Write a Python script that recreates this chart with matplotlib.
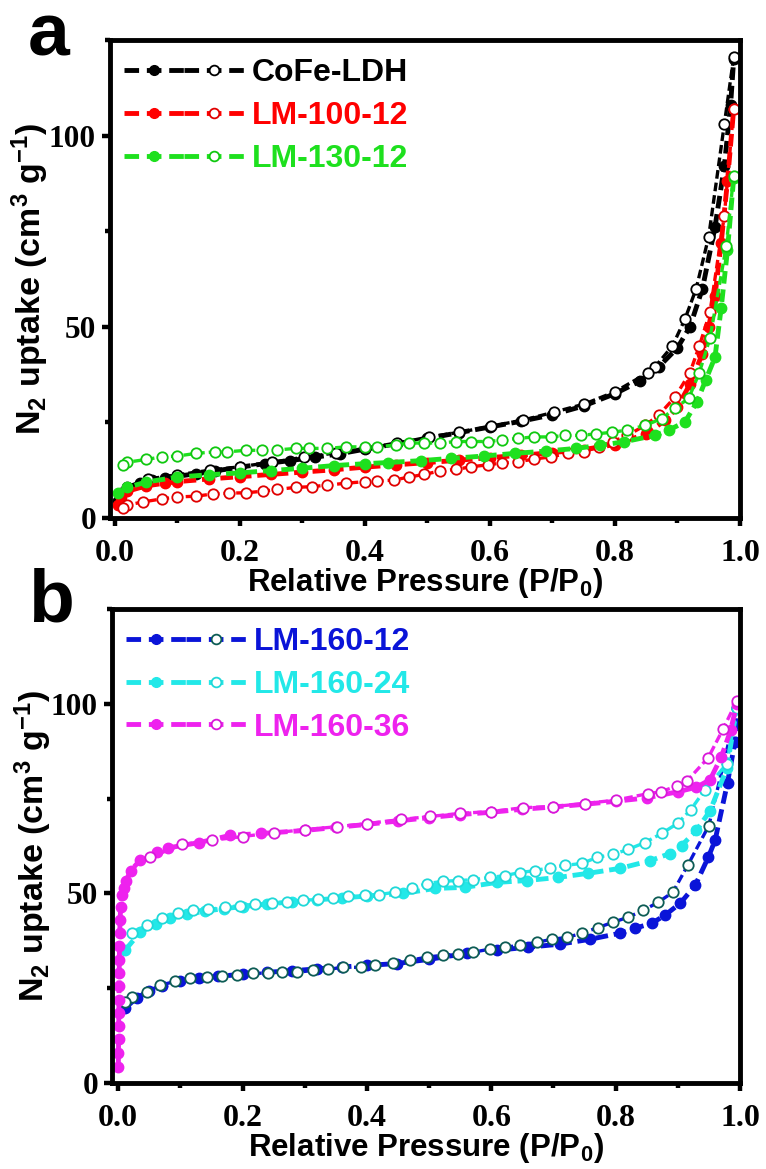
import numpy as np
import matplotlib
matplotlib.use('Agg')
import matplotlib.pyplot as plt
from matplotlib.lines import Line2D
from matplotlib.legend_handler import HandlerTuple
from matplotlib.ticker import MultipleLocator

plt.rcParams['font.family'] = ['Liberation Sans', 'DejaVu Sans']
plt.rcParams['mathtext.fontset'] = 'custom'
plt.rcParams['mathtext.rm'] = 'Liberation Sans:bold'
plt.rcParams['mathtext.it'] = 'Liberation Sans:bold'
plt.rcParams['mathtext.bf'] = 'Liberation Sans:bold'

# ---- panel a data ----
cofe_ads_x = [0.005, 0.01, 0.02, 0.04, 0.06, 0.08, 0.1, 0.13, 0.16, 0.2, 0.24, 0.28, 0.32, 0.36, 0.4,
              0.45, 0.5, 0.55, 0.6, 0.65, 0.7, 0.75, 0.8, 0.84, 0.87, 0.9, 0.92, 0.94, 0.96, 0.975, 0.985, 0.99]
cofe_ads_y = [4.5, 6.5, 8.0, 9.2, 10.0, 10.5, 10.9, 11.6, 12.3, 13.3, 14.2, 15.0, 15.9, 16.8, 18.0,
              19.4, 20.8, 22.3, 23.8, 25.3, 27.0, 29.3, 32.5, 35.8, 39.5, 44.5, 50, 60, 76, 92, 108, 120]
cofe_des_x = [0.99, 0.975, 0.95, 0.93, 0.912, 0.892, 0.864, 0.853, 0.8, 0.751, 0.703, 0.653, 0.602,
              0.551, 0.502, 0.452, 0.4, 0.353, 0.302, 0.252, 0.2, 0.152, 0.1, 0.053]
cofe_des_y = [120.5, 103, 73.6, 60, 52, 45, 39.5, 38, 33, 29.8, 27.7, 25.6, 24, 22.4, 21.2, 19.5,
              18.2, 17, 15.9, 14.6, 13.4, 12.5, 11.3, 10.2]

lm100_ads_x = [0.005, 0.01, 0.02, 0.05, 0.08, 0.1, 0.15, 0.2, 0.25, 0.3, 0.35, 0.4, 0.45, 0.5, 0.55,
               0.6, 0.65, 0.7, 0.75, 0.8, 0.85, 0.88, 0.9, 0.92, 0.94, 0.95, 0.96, 0.97, 0.98, 0.99]
lm100_ads_y = [3.5, 5.5, 7.0, 8.4, 9.1, 9.5, 10.2, 10.8, 11.4, 12.0, 12.6, 13.3, 13.9, 14.5, 15.1,
               15.8, 16.4, 17.1, 17.9, 19.2, 22, 25.5, 29, 35, 43, 50, 58, 72, 88, 107]
lm100_des_x = [0.99, 0.975, 0.952, 0.935, 0.92, 0.896, 0.87, 0.848, 0.82, 0.797, 0.774, 0.75, 0.725,
               0.698, 0.67, 0.645, 0.62, 0.597, 0.57, 0.546, 0.52, 0.495, 0.47, 0.446, 0.42, 0.4, 0.37,
               0.34, 0.315, 0.29, 0.26, 0.237, 0.21, 0.183, 0.157, 0.13, 0.1, 0.075, 0.045, 0.02, 0.013]
lm100_des_y = [107, 79, 53.8, 45, 38, 31.6, 26.9, 24.2, 21.6, 20.0, 18.6, 17.3, 16.9, 16.0, 15.4,
               14.7, 14.4, 13.9, 13.4, 12.7, 12.3, 11.4, 10.7, 9.9, 9.7, 9.5, 9.1, 8.6, 8.2, 8.0, 7.5,
               7.0, 6.6, 6.5, 6.3, 5.7, 5.5, 5.0, 4.2, 3.4, 2.6]

lm130_ads_x = [0.005, 0.02, 0.05, 0.1, 0.15, 0.2, 0.25, 0.3, 0.35, 0.4, 0.437, 0.49, 0.538, 0.59,
               0.64, 0.69, 0.738, 0.776, 0.814, 0.864, 0.886, 0.912, 0.931, 0.945, 0.96, 0.97, 0.98, 0.99]
lm130_ads_y = [6.5, 8.0, 9.4, 10.7, 11.3, 11.8, 12.4, 13.0, 13.7, 14.2, 14.5, 15.0, 15.6, 16.2,
               16.9, 17.5, 18.2, 19.0, 19.9, 21.6, 23, 25.1, 30.3, 36, 42, 55, 70, 89]
lm130_des_x = [0.99, 0.978, 0.952, 0.935, 0.918, 0.896, 0.875, 0.848, 0.82, 0.795, 0.77, 0.745, 0.72,
               0.697, 0.67, 0.645, 0.62, 0.597, 0.57, 0.546, 0.52, 0.495, 0.47, 0.45, 0.42, 0.4, 0.37,
               0.34, 0.31, 0.29, 0.26, 0.235, 0.21, 0.18, 0.16, 0.13, 0.1, 0.075, 0.05, 0.02, 0.013]
lm130_des_y = [89.5, 71, 47, 38, 31.3, 28.7, 26, 24.2, 23, 22.4, 22, 21.6, 21.6, 21.2, 21.2, 20.8,
               20.4, 20, 20, 20, 19.6, 19.6, 19.6, 19.1, 18.6, 18.6, 18.6, 18.2, 18.2, 18.2, 17.8,
               17.7, 17.7, 17.3, 17.3, 16.9, 16.2, 16, 15.3, 14.6, 13.8]

# ---- panel b data ----
lm12_ads_x = [0.011, 0.03, 0.05, 0.07, 0.1, 0.13, 0.16, 0.2, 0.24, 0.28, 0.32, 0.36, 0.4, 0.448, 0.5,
              0.561, 0.609, 0.659, 0.71, 0.759, 0.807, 0.831, 0.858, 0.879, 0.904, 0.928, 0.949, 0.96,
              0.98, 0.992, 0.995]
lm12_ads_y = [19.7, 22.5, 24.2, 25.5, 26.8, 27.6, 28.1, 28.7, 29.2, 29.6, 30.1, 30.6, 31.0, 31.5, 32.6,
              34.2, 35.0, 35.8, 36.6, 37.9, 39.5, 40.8, 42.1, 44.2, 47.4, 52.1, 59.5, 64, 79.2, 90, 99]
lm12_des_x = [0.995, 0.95, 0.916, 0.892, 0.868, 0.844, 0.82, 0.796, 0.772, 0.746, 0.722, 0.698, 0.673,
              0.646, 0.622, 0.598, 0.571, 0.547, 0.523, 0.497, 0.47, 0.442, 0.413, 0.39, 0.362, 0.338,
              0.314, 0.288, 0.263, 0.241, 0.217, 0.191, 0.167, 0.143, 0.116, 0.092, 0.068, 0.046,
              0.022, 0.011]
lm12_des_y = [99, 67.9, 57.4, 50.3, 47.6, 45.5, 43.7, 42.4, 41.0, 39.5, 38.4, 37.9, 37.1, 36.3, 35.8,
              35.3, 34.5, 34.0, 33.7, 33.2, 32.4, 31.6, 31.0, 30.5, 30.5, 30.0, 29.7, 29.2, 29.2, 29.0,
              28.9, 28.4, 28.2, 27.9, 27.6, 26.8, 25.8, 24.0, 22.6, 21.3]

lm24_ads_x = [0.011, 0.035, 0.06, 0.084, 0.11, 0.14, 0.17, 0.2, 0.24, 0.28, 0.32, 0.36, 0.4, 0.458,
              0.51, 0.558, 0.609, 0.658, 0.707, 0.756, 0.807, 0.855, 0.887, 0.906, 0.93, 0.952, 0.979, 0.995]
lm24_ads_y = [35, 39.7, 42, 43.4, 44.5, 45.3, 46, 46.5, 47.2, 47.8, 48.3, 48.8, 49.3, 50, 51.3, 51.6,
              52.9, 53.4, 54.2, 55.3, 56.6, 58.6, 60.5, 62.6, 66.6, 71.8, 83, 99]
lm24_des_x = [0.995, 0.979, 0.944, 0.921, 0.9, 0.874, 0.847, 0.82, 0.796, 0.77, 0.746, 0.719, 0.695,
              0.67, 0.646, 0.622, 0.598, 0.571, 0.547, 0.523, 0.497, 0.472, 0.445, 0.42, 0.397, 0.37,
              0.346, 0.322, 0.298, 0.271, 0.247, 0.22, 0.196, 0.172, 0.145, 0.121, 0.096, 0.07, 0.046, 0.022]
lm24_des_y = [99, 84.2, 77.4, 72.1, 68.5, 65.8, 63.4, 61.6, 60.3, 59.5, 57.9, 57.4, 56.8, 56, 55.5,
              54.7, 54.2, 53.6, 53.4, 53.2, 52.6, 51.3, 50.3, 49.7, 49.5, 49.2, 48.7, 48.4, 48.2, 47.6,
              47.4, 47.1, 46.8, 46.3, 45.8, 45.5, 44.7, 43.4, 41.6, 39.5]

lm36_ads_x = [0.0002, 0.0004, 0.0006, 0.0008, 0.001, 0.0012, 0.0014, 0.0016, 0.0018, 0.002, 0.0025,
              0.003, 0.004, 0.006, 0.009, 0.013, 0.02, 0.035, 0.062, 0.08, 0.13, 0.18, 0.23, 0.3, 0.35,
              0.4, 0.45, 0.5, 0.55, 0.6, 0.65, 0.7, 0.75, 0.8, 0.85, 0.9, 0.93, 0.952, 0.97, 0.985, 0.995]
lm36_ads_y = [4.2, 8.0, 11.5, 15.0, 18.5, 22.0, 25.5, 29.0, 32.5, 36.0, 39.5, 43.0, 46.5, 49.5, 51.5,
              53.4, 56.0, 58.7, 60.8, 62.0, 63.4, 65.3, 65.8, 66.6, 67.4, 68.2, 69.1, 70.0, 70.8, 71.4,
              72.2, 72.8, 73.5, 74.3, 75.2, 76.8, 78, 80, 86, 93, 100]
lm36_des_x = [0.995, 0.973, 0.949, 0.915, 0.899, 0.873, 0.852, 0.8, 0.75, 0.7, 0.651, 0.6, 0.55, 0.502,
              0.455, 0.4, 0.352, 0.3, 0.25, 0.2, 0.151, 0.103, 0.051]
lm36_des_y = [100.8, 93.4, 85.8, 79.7, 78.4, 76.8, 76.3, 74.6, 73.7, 72.9, 72.6, 71.6, 71.1, 70.3,
              69.5, 68.4, 67.6, 66.8, 66, 65, 64, 62.9, 59.5]

labels_a = ['CoFe-LDH', 'LM-100-12', 'LM-130-12']
colors_a = ['#000000', '#ff0000', '#1ee01e']
open_edges_a = ['#000000', '#e00000', '#10c810']
labels_b = ['LM-160-12', 'LM-160-24', 'LM-160-36']
colors_b = ['#0a14d8', '#22e8e8', '#ee22ee']
open_edges_b = ['#0d5c55', '#20d8d8', '#d818d8']

series_a = [(cofe_ads_x, cofe_ads_y, cofe_des_x, cofe_des_y),
            (lm100_ads_x, lm100_ads_y, lm100_des_x, lm100_des_y),
            (lm130_ads_x, lm130_ads_y, lm130_des_x, lm130_des_y)]
series_b = [(lm12_ads_x, lm12_ads_y, lm12_des_x, lm12_des_y),
            (lm24_ads_x, lm24_ads_y, lm24_des_x, lm24_des_y),
            (lm36_ads_x, lm36_ads_y, lm36_des_x, lm36_des_y)]

fig = plt.figure(figsize=(7.66, 11.69), dpi=100)
ax_a = fig.add_axes([0.1436, 0.5569, 0.8224, 0.4089])
ax_b = fig.add_axes([0.1462, 0.0736, 0.8198, 0.4054])

lw = 3.5
ms = 7.5
dash = (2.6, 1.2)


def draw_panel(ax, series, labels, colors, edges, xmin):
    for (ax_x, ax_y, dx, dy), c, e in zip(series, colors, edges):
        ax.plot(ax_x, ax_y, ls='--', dashes=dash, lw=lw, color=c, marker='o', ms=ms,
                mfc=c, mec=c)
        ax.plot(dx, dy, ls='--', dashes=dash, lw=2.4, color=c, marker='o', ms=ms,
                mfc='white', mec=e, mew=1.3)
    handles = []
    for c, e in zip(colors, edges):
        h1 = Line2D([], [], ls='--', dashes=(3, 1.6), lw=lw, color=c, marker='o', ms=7, mfc=c, mec=c)
        h2 = Line2D([], [], ls='--', dashes=(3, 1.6), lw=lw, color=c, marker='o', ms=7,
                    mfc='white', mec=e, mew=1.3)
        handles.append((h1, h2))
    leg = ax.legend(handles, labels, handler_map={tuple: HandlerTuple(ndivide=None, pad=0)},
                    loc='upper left', bbox_to_anchor=(0.022, 0.962), frameon=False,
                    borderpad=0, borderaxespad=0, handlelength=3.76, handletextpad=0.25,
                    labelspacing=0.4, numpoints=1,
                    prop={'family': 'Liberation Sans', 'weight': 'bold', 'size': 23})
    for t, c in zip(leg.get_texts(), colors):
        t.set_color(c)

    ax.set_xlim(xmin, 1.0)
    ax.set_ylim(0, 125)
    ax.set_xticks([0.0, 0.2, 0.4, 0.6, 0.8, 1.0])
    ax.set_xticklabels(['0.0', '0.2', '0.4', '0.6', '0.8', '1.0'],
                       fontfamily='Liberation Serif', fontweight='bold', fontsize=23)
    ax.set_yticks([0, 50, 100])
    ax.set_yticklabels(['0', '50', '100'],
                       fontfamily='Liberation Serif', fontweight='bold', fontsize=22.5)
    ax.xaxis.set_minor_locator(MultipleLocator(0.1))
    ax.yaxis.set_minor_locator(MultipleLocator(25))
    ax.tick_params(which='major', direction='out', length=6, width=3.2)
    ax.tick_params(which='minor', direction='out', length=3.5, width=3.2)
    ax.tick_params(axis='x', which='major', pad=9)
    ax.tick_params(axis='y', which='major', pad=4)
    for s in ax.spines.values():
        s.set_linewidth(3.5)
    ax.set_xlabel('Relative Pressure (P/P$_0$)', fontsize=22.5, fontweight='bold', labelpad=-1)
    ax.set_ylabel('N$_2$ uptake (cm$^3$ g$^{-1}$)', fontsize=24.5, fontweight='bold')
    ax.yaxis.set_label_coords(-0.093, 0.5)


draw_panel(ax_a, series_a, labels_a, colors_a, open_edges_a, -0.008)
draw_panel(ax_b, series_b, labels_b, colors_b, open_edges_b, -0.01)

fig.text(28 / 766, 1 - 55 / 1169, 'a', fontsize=54, fontweight='bold', ha='left', va='baseline')
fig.text(28 / 766, 1 - 621 / 1169, 'b', fontsize=54, fontweight='bold', ha='left', va='baseline')

fig.savefig('out.png', dpi=100)
